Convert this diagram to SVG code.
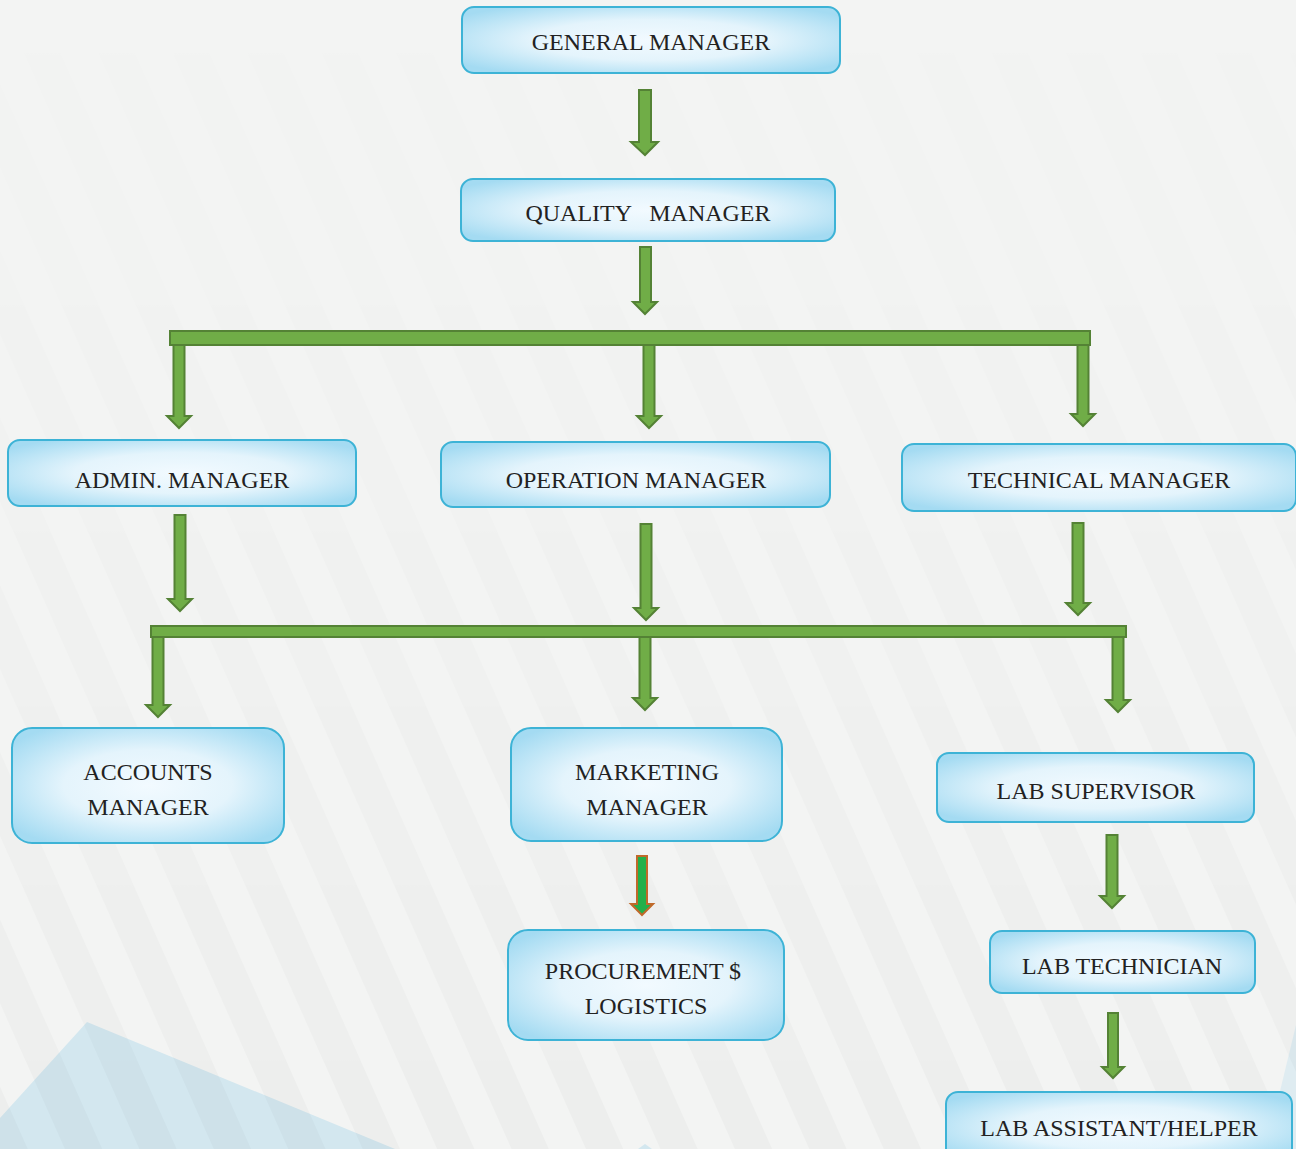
<svg xmlns="http://www.w3.org/2000/svg" width="1296" height="1149" viewBox="0 0 1296 1149">
<defs>
<radialGradient id="nodeFill" cx="50%" cy="50%" r="62%">
<stop offset="0" stop-color="#f2faff"/>
<stop offset="0.5" stop-color="#e4f4fc"/>
<stop offset="1" stop-color="#a4dbf2"/>
</radialGradient>
<pattern id="stripes" width="68" height="68" patternUnits="userSpaceOnUse" patternTransform="rotate(-24)">
<rect x="0" y="0" width="34" height="68" fill="#000" fill-opacity="0.025"/>
</pattern>
<linearGradient id="fade" x1="0" y1="0" x2="0" y2="1">
<stop offset="0" stop-color="#fff" stop-opacity="0.05"/>
<stop offset="0.4" stop-color="#fff" stop-opacity="0.35"/>
<stop offset="1" stop-color="#fff" stop-opacity="1"/>
</linearGradient>
<mask id="fadeMask"><rect width="1296" height="1149" fill="url(#fade)"/></mask>
<style>
.node rect{fill:url(#nodeFill);stroke:#3db3d6;stroke-width:2}
.node text{font-family:"Liberation Serif","DejaVu Serif",serif;font-size:24px;fill:#222;text-anchor:middle}
.arrow{fill:#70ad47;stroke:#548235;stroke-width:2;stroke-linejoin:miter}
.arrow2{fill:#22b04a;stroke:#c0692a;stroke-width:2}
</style>
</defs>
<rect width="1296" height="1149" fill="#f3f4f3"/>
<polygon points="87,1022 0,1118 0,1149 395,1149" fill="#d3e7ef"/>
<polygon points="645,1144 638,1149 652,1149" fill="#d3e7ef"/>
<polygon points="1296,1025 1266,1149 1296,1149" fill="#dfecf1"/>
<rect width="1296" height="1149" fill="url(#stripes)" mask="url(#fadeMask)"/>

<g id="connectors">
<path class="arrow" d="M639,90 H651 V142 H658 L645,155 L631,142 H639 Z"/>
<path class="arrow" d="M640,247 H651 V302 H657 L645,314 L633,302 H640 Z"/>
<path class="arrow" d="M173.5,345 H184.5 V416 H191 L179,428 L167,416 H173.5 Z"/>
<path class="arrow" d="M643.5,345 H654.5 V416 H661 L649,428 L637,416 H643.5 Z"/>
<path class="arrow" d="M1077.5,345 H1088.5 V414 H1095 L1083,426 L1071,414 H1077.5 Z"/>
<rect class="arrow" x="170" y="331" width="920" height="14"/>
<path class="arrow" d="M174.5,515 H185.5 V599 H192 L180,611 L168,599 H174.5 Z"/>
<path class="arrow" d="M640.5,524 H651.5 V608 H658 L646,620 L634,608 H640.5 Z"/>
<path class="arrow" d="M1072.5,523 H1083.5 V603 H1090 L1078,615 L1066,603 H1072.5 Z"/>
<path class="arrow" d="M152.5,637 H163.5 V705 H170 L158,717 L146,705 H152.5 Z"/>
<path class="arrow" d="M639.5,637 H650.5 V698 H657 L645,710 L633,698 H639.5 Z"/>
<path class="arrow" d="M1112.5,637 H1123.5 V700 H1130 L1118,712 L1106,700 H1112.5 Z"/>
<rect class="arrow" x="151" y="626" width="975" height="11"/>
<path class="arrow2" d="M637,856 H647 V904 H653 L642,915 L631,904 H637 Z"/>
<path class="arrow" d="M1106.5,835 H1117.5 V896 H1124 L1112,908 L1100,896 H1106.5 Z"/>
<path class="arrow" d="M1108,1013 H1118 V1067 H1124 L1113,1078 L1102,1067 H1108 Z"/>
</g>

<g id="n-general" class="node"><rect x="462" y="7" width="378" height="66" rx="12"/><text x="651" y="50">GENERAL MANAGER</text></g>
<g id="n-quality" class="node"><rect x="461" y="179" width="374" height="62" rx="12"/><text x="648" y="221" xml:space="preserve">QUALITY   MANAGER</text></g>
<g id="n-admin" class="node"><rect x="8" y="440" width="348" height="66" rx="12"/><text x="182" y="488">ADMIN. MANAGER</text></g>
<g id="n-operation" class="node"><rect x="441" y="442" width="389" height="65" rx="12"/><text x="636" y="488">OPERATION MANAGER</text></g>
<g id="n-technical" class="node"><rect x="902" y="444" width="394" height="67" rx="12"/><text x="1099" y="488">TECHNICAL MANAGER</text></g>
<g id="n-accounts" class="node"><rect x="12" y="728" width="272" height="115" rx="20"/><text x="148" y="780">ACCOUNTS</text><text x="148" y="815">MANAGER</text></g>
<g id="n-marketing" class="node"><rect x="511" y="728" width="271" height="113" rx="20"/><text x="647" y="780">MARKETING</text><text x="647" y="815">MANAGER</text></g>
<g id="n-labsup" class="node"><rect x="937" y="753" width="317" height="69" rx="12"/><text x="1096" y="799">LAB SUPERVISOR</text></g>
<g id="n-procurement" class="node"><rect x="508" y="930" width="276" height="110" rx="20"/><text x="643" y="979">PROCUREMENT $</text><text x="646" y="1014">LOGISTICS</text></g>
<g id="n-labtech" class="node"><rect x="990" y="931" width="265" height="62" rx="12"/><text x="1122" y="974">LAB TECHNICIAN</text></g>
<g id="n-labassist" class="node"><rect x="946" y="1092" width="346" height="70" rx="12"/><text x="1119" y="1136">LAB ASSISTANT/HELPER</text></g>
</svg>
